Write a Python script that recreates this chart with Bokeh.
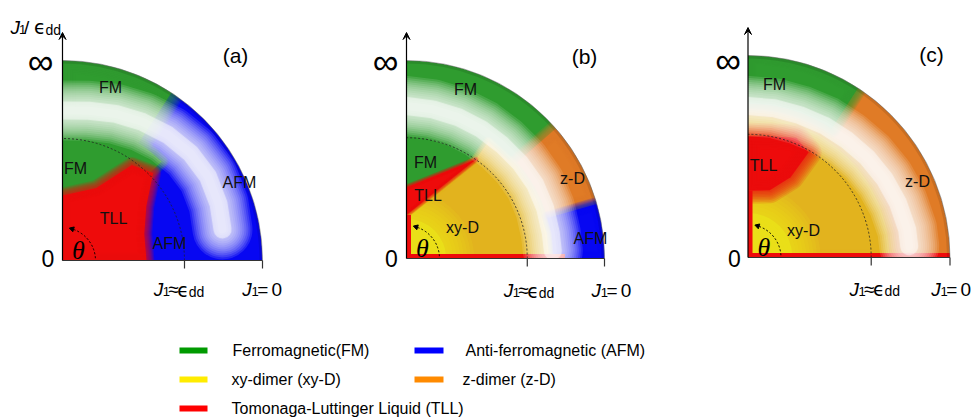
import numpy as np
from bokeh.plotting import figure
from bokeh.models import Range1d, Arrow, VeeHead
from bokeh.core.properties import value
from bokeh.embed import file_html
from bokeh.resources import INLINE

# ---------------- chart data ----------------
PANEL_TAGS = ["(a)", "(b)", "(c)"]
R_EDD = 0.61          # radial position of J1 ~ eps_dd (fraction of outer radius)

PHASE_COLOR = {"FM": "#2f9c2f", "AFM": "#0707f2", "xy-D": "#e2b31e",
               "z-D": "#e07b26", "TLL": "#ee0b0b"}
XY_GLOW = "#ece71c"
LEGEND_PHASES = ["FM", "xy-D", "TLL", "AFM", "z-D"]
LEGEND_TEXT = ["Ferromagnetic(FM)", "xy-dimer (xy-D)", "Tomonaga-Luttinger Liquid (TLL)",
               "Anti-ferromagnetic (AFM)", "z-dimer (z-D)"]
LEGEND_COLOR = {"FM": "#009a00", "AFM": "#0000ff", "xy-D": "#ffec00",
                "z-D": "#ff8a00", "TLL": "#ff0000"}

# sectors: (phase, r_in, r_out, angle_start, angle_end, edge softness)
SECTORS_A = [("AFM", 0.00, 1.00, 0, 90, 0),
             ("FM", 0.60, 1.00, 57, 90, 26),
             ("FM", 0.00, 0.70, 45, 90, 14)]
SECTORS_B = [("FM", 0.00, 1.00, 0, 90, 0),
             ("z-D", 0.74, 1.00, 17, 41, 18),
             ("AFM", 0.74, 1.00, 0, 16, 14)]
SECTORS_C = [("z-D", 0.00, 1.00, 0, 90, 0),
             ("FM", 0.76, 1.00, 57, 90, 18),
             ("xy-D", 0.00, 0.70, 0, 90, 16)]

# irregular phase regions, polar vertices (r fraction, angle deg)
XY_B_R = [0.00, 0.22, 0.61, 0.72, 0.72, 0.72, 0.72, 0.72]
XY_B_ANG = [0, 90, 55, 55, 40, 25, 10, 0]
TLL_A_R = [0.00, 0.325, 0.40, 0.59, 0.63, 0.50, 0.43, 0.42]
TLL_A_ANG = [0, 90, 65, 54, 44, 33, 18, 0]
TLL_B_R = [0.22, 0.36, 0.61]
TLL_B_ANG = [90, 90, 55]
TLL_C_R = [0.33, 0.35, 0.45, 0.60, 0.64, 0.61, 0.60]
TLL_C_ANG = [90, 72, 62, 60, 68, 80, 90]

# yellow core of xy-D near the origin: (panel, radius)
GLOW = [(1, 0.20), (2, 0.22)]

# TLL along the axes: (panel, extent along J1 axis, extent along theta=90 axis)
STRIPS = [(1, 0.80, 0.22), (2, 1.00, 0.33)]

# white crossover band centreline
BAND_A_ANG = [90, 80, 70, 60, 50, 40, 30, 20, 11]
BAND_A_R = [0.75, 0.76, 0.78, 0.80, 0.82, 0.835, 0.84, 0.83, 0.815]
BAND_B_ANG = [90, 80, 70, 60, 50, 40, 30, 20, 10, 3]
BAND_B_R = [0.77, 0.765, 0.76, 0.755, 0.75, 0.75, 0.75, 0.745, 0.74, 0.74]
BAND_C_ANG = [90, 80, 70, 60, 50, 40, 30, 20, 10, 4]
BAND_C_R = [0.75, 0.75, 0.75, 0.755, 0.76, 0.77, 0.78, 0.79, 0.80, 0.80]

# ---------------- layout (page pixels) ----------------
ORIGIN = [(62, 260), (406, 258), (747.5, 257)]
RAD = [200, 198, 202]
TAG_POS = [(235, 55), (584, 56), (931, 54)]
INF_POS = [(40, 61), (385, 61), (727.5, 60)]
ZERO_POS = [(47.5, 258), (391, 258), (734, 257.5)]
EDD_LBL = [(153.3, 289), (503.3, 290), (849, 288.5)]
J0_LBL = [(241.7, 289), (591, 290), (930.7, 288.5)]
PHASE_LBL = [
    [("FM", 110, 87), ("FM", 75, 168), ("AFM", 239, 182), ("TLL", 113, 217.5), ("AFM", 169, 242.5)],
    [("FM", 465, 89), ("FM", 425, 162), ("TLL", 427.5, 195), ("xy-D", 462, 227),
     ("z-D", 572, 177.5), ("AFM", 590, 237.5)],
    [("FM", 774, 84), ("TLL", 763, 165), ("z-D", 917, 181), ("xy-D", 803, 230)],
]
LEG_ROWS = [350, 379, 408]

W, H = 977, 418
p = figure(width=W, height=H, x_range=Range1d(0, W), y_range=Range1d(0, H),
           x_axis_type=None, y_axis_type=None, output_backend="svg",
           toolbar_location=None, min_border=0)
p.outline_line_color = None
p.background_fill_color = "white"
p.border_fill_color = "white"


def D(py):
    return H - py


def pol(k, r, a):
    ox, oy = ORIGIN[k]
    R = RAD[k]
    r = np.asarray(r, float)
    a = np.radians(np.asarray(a, float))
    return list(ox + R * r * np.cos(a)), list(D(oy) + R * r * np.sin(a))


SOFT_STEPS = [(f, 0.15) for f in (1.0, 0.875, 0.75, 0.625, 0.5, 0.375, 0.25, 0.125)]


def sector(k, color, r0, r1, a0, a1, soft, alpha=1.0):
    ox, oy = ORIGIN[k]
    R = RAD[k]
    kw = dict(x=ox, y=D(oy), inner_radius=R * r0, outer_radius=R * r1,
              start_angle=np.radians(a0), end_angle=np.radians(a1))
    p.annular_wedge(**kw, fill_color=color, fill_alpha=alpha, line_color=None)
    if soft:
        for f, al in SOFT_STEPS:
            p.annular_wedge(**kw, fill_color=None, line_color=color, line_width=soft * f,
                            line_alpha=al * alpha, line_join="round")


def region(k, rs, angs, color, soft):
    xs, ys = pol(k, rs, angs)
    p.patch(xs, ys, fill_color=color, line_color=None)
    if soft:
        for f, al in SOFT_STEPS:
            p.patch(xs, ys, fill_color=None, line_color=color, line_width=soft * f,
                    line_alpha=al, line_join="round")


def band(k, rs, angs):
    xs, ys = pol(k, rs, angs)
    for w in range(60, 7, -4):
        p.line(xs, ys, line_color="white", line_width=w, line_alpha=0.12,
               line_cap="round", line_join="round")
    p.line(xs, ys, line_color="white", line_width=18, line_alpha=0.45,
           line_cap="round", line_join="round")


# ---- phase regions ----
for k, secs in enumerate([SECTORS_A, SECTORS_B, SECTORS_C]):
    for ph, r0, r1, a0, a1, s in secs:
        sector(k, PHASE_COLOR[ph], r0, r1, a0, a1, s)
    if k == 1:
        region(1, XY_B_R, XY_B_ANG, PHASE_COLOR["xy-D"], 10)

for k, rg in GLOW:
    sector(k, XY_GLOW, 0.0, rg, 0, 90, 56, alpha=0.8)

region(0, TLL_A_R, TLL_A_ANG, PHASE_COLOR["TLL"], 16)
region(1, TLL_B_R, TLL_B_ANG, PHASE_COLOR["TLL"], 6)
region(2, TLL_C_R, TLL_C_ANG, PHASE_COLOR["TLL"], 26)

for k, rb, rl in STRIPS:
    ox, oy = ORIGIN[k]
    R = RAD[k]
    p.quad(left=ox, right=ox + R * rb, bottom=D(oy), top=D(oy) + 4.5,
           fill_color=PHASE_COLOR["TLL"], line_color=None)
    p.quad(left=ox, right=ox + 4.5, bottom=D(oy), top=D(oy) + R * rl,
           fill_color=PHASE_COLOR["TLL"], line_color=None)

band(0, BAND_A_R, BAND_A_ANG)
band(1, BAND_B_R, BAND_B_ANG)
band(2, BAND_C_R, BAND_C_ANG)

# ---- masks outside each quarter disc ----
for k in range(3):
    ox, oy = ORIGIN[k]
    R = RAD[k]
    y0 = D(oy)
    p.annular_wedge(x=ox, y=y0, inner_radius=R, outer_radius=R + 45,
                    start_angle=np.radians(-10), end_angle=np.radians(100),
                    fill_color="white", line_color=None)
    p.quad(left=ox - 45, right=ox, bottom=y0 - 45, top=y0 + R + 45,
           fill_color="white", line_color=None)
    p.quad(left=ox - 45, right=ox + R + 45, bottom=y0 - 45, top=y0,
           fill_color="white", line_color=None)


def t(x, y, s, size, style="normal", font="Liberation Sans", align="left",
      baseline="alphabetic", color="black"):
    p.text(x=[x], y=[D(y)], text=[s], text_font=value(font),
           text_font_size=f"{size}px", text_font_style=style, text_align=align,
           text_baseline=baseline, text_color=color)


# ---- frames, axes, labels ----
for k in range(3):
    ox, oy = ORIGIN[k]
    R = RAD[k]
    y0 = D(oy)
    p.arc(x=ox, y=y0, radius=R - 1.5, start_angle=0, end_angle=np.pi / 2,
          line_color="black", line_width=3, line_alpha=0.10)
    p.arc(x=ox, y=y0, radius=R, start_angle=0, end_angle=np.pi / 2,
          line_color="#666666", line_width=0.8, line_alpha=0.7)
    p.arc(x=ox, y=y0, radius=R * R_EDD, start_angle=0, end_angle=np.pi / 2,
          line_color="#222222", line_width=0.8, line_dash="2 2")
    p.add_layout(Arrow(end=VeeHead(size=7, line_width=1, line_color="black", fill_color="black"),
                       x_start=ox, y_start=y0, x_end=ox, y_end=y0 + R + 28,
                       line_width=1.2, line_color="black"))
    p.segment(x0=[ox], y0=[y0], x1=[ox + R], y1=[y0], line_color="#333333", line_width=1.2)
    p.segment(x0=[ox + R * R_EDD, ox + R], y0=[y0, y0], x1=[ox + R * R_EDD, ox + R],
              y1=[y0 - 8, y0 - 8], line_color="#333333", line_width=1.2)
    # theta marker
    p.arc(x=ox, y=y0, radius=33, start_angle=np.radians(4), end_angle=np.radians(70),
          line_color="black", line_width=1, line_dash="2 2")
    ax, ay = ox + 33 * np.cos(np.radians(73)), y0 + 33 * np.sin(np.radians(73))
    p.scatter(x=[ax], y=[ay], marker="triangle", size=5, angle=np.radians(73),
              fill_color="black", line_color="black")
    t(ox + 16, oy - 10, "θ", 26, "italic", "Liberation Serif", "center", "middle")
    # axis texts
    t(INF_POS[k][0], INF_POS[k][1], "∞", 36, align="center", baseline="middle")
    t(ZERO_POS[k][0], ZERO_POS[k][1], "0", 23, align="center", baseline="middle")
    t(TAG_POS[k][0], TAG_POS[k][1], PANEL_TAGS[k], 21, align="center", baseline="middle")
    L, b = EDD_LBL[k]
    t(L, b, "J", 19, "italic")
    t(L + 9, b + 2, "1", 13)
    t(L + 14.4, b, "≈", 19)
    t(L + 23.4, b, "ϵ", 19, font="DejaVu Sans")
    t(L + 35, b + 2, "dd", 14)
    L, b = J0_LBL[k]
    t(L, b, "J", 19, "italic")
    t(L + 9.3, b + 2, "1", 13)
    t(L + 15, b, "=", 19)
    t(L + 29.3, b, "0", 19)
    for s, x, y in PHASE_LBL[k]:
        t(x, y, s, 16, align="center", baseline="middle", color="#111111")

# y-axis quantity label
t(10, 26.7, "J", 19, "italic")
t(18.5, 29, "1", 13)
t(23.5, 26.7, "/", 19)
t(33.5, 26.7, "ϵ", 19, font="DejaVu Sans")
t(45, 29, "dd", 14)

# ---- legend ----
LEG_X = [(179, 207, 232), (179, 207, 231), (179, 207, 231), (414, 443, 465), (414, 443, 462)]
LEG_Y = [LEG_ROWS[0], LEG_ROWS[1], LEG_ROWS[2], LEG_ROWS[0], LEG_ROWS[1]]
for i, ph in enumerate(LEGEND_PHASES):
    x0, x1, xt = LEG_X[i]
    y = LEG_Y[i]
    p.segment(x0=[x0], y0=[D(y)], x1=[x1], y1=[D(y)], line_color=LEGEND_COLOR[ph],
              line_width=6, line_cap="butt")
    t(xt, y, LEGEND_TEXT[i], 16, baseline="middle")

open("out.html", "w").write(file_html(p, INLINE))
